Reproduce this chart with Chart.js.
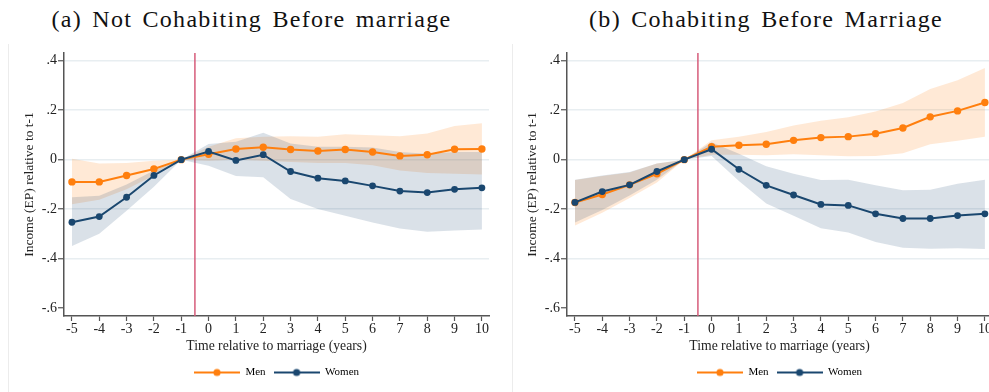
<!DOCTYPE html>
<html>
<head>
<meta charset="utf-8">
<script src="https://cdn.jsdelivr.net/npm/chart.js@4.4.1/dist/chart.umd.min.js"></script>
<style>
  html, body { margin: 0; padding: 0; background: #fff; overflow: hidden; }
  body { width: 989px; height: 392px; position: relative; }
  .panel { position: absolute; top: 0; }
  .frame { position: absolute; top: 44px; bottom: 0; width: 0; border-left: 1px solid #ececec; }
  .ttl { position: absolute; top: 7px; text-align: center; font-family: 'Liberation Serif', serif;
         font-size: 24px; line-height: 24px; letter-spacing: 1.3px; word-spacing: 3px; color: #111; white-space: nowrap; }
</style>
</head>
<body>
<div class="frame" style="left:8px"></div>
<div class="frame" style="left:512px"></div>
<div class="ttl" style="left:0;width:503px">(a) Not Cohabiting Before marriage</div>
<div class="ttl" style="left:512px;width:508px">(b) Cohabiting Before Marriage</div>
<canvas id="chartA" class="panel" style="left:0" width="500" height="392"></canvas>
<canvas id="chartB" class="panel" style="left:503px" width="500" height="392"></canvas>
<script>
// time relative to marriage (years)
const years = [-5, -4, -3, -2, -1, 0, 1, 2, 3, 4, 5, 6, 7, 8, 9, 10]
const marriageAt = -0.5

const yTicks = [-0.6, -0.4, -0.2, 0, 0.2, 0.4]
const yTickLabels = ['-.6', '-.4', '-.2', '0', '.2', '.4']

// (a) not cohabiting before marriage
const menA    = [-0.090, -0.090, -0.064, -0.038, 0, 0.022, 0.043, 0.050, 0.041, 0.035, 0.041, 0.031, 0.015, 0.020, 0.042, 0.043]
const menALo  = [-0.180, -0.162, -0.120, -0.064, 0, -0.005, 0.000, -0.005, -0.010, -0.014, -0.014, -0.023, -0.044, -0.054, -0.057, -0.060]
const menAHi  = [0.004, -0.016, -0.014, -0.005, 0, 0.052, 0.086, 0.093, 0.095, 0.093, 0.103, 0.099, 0.095, 0.106, 0.136, 0.147]
const womenA   = [-0.253, -0.230, -0.152, -0.064, 0, 0.033, -0.003, 0.020, -0.048, -0.075, -0.086, -0.106, -0.127, -0.133, -0.120, -0.114]
const womenALo = [-0.349, -0.300, -0.207, -0.110, 0, -0.025, -0.066, -0.071, -0.159, -0.200, -0.227, -0.254, -0.278, -0.291, -0.286, -0.282]
const womenAHi = [-0.152, -0.146, -0.100, -0.044, 0, 0.063, 0.072, 0.109, 0.065, 0.052, 0.052, 0.049, 0.031, 0.024, 0.031, 0.031]

// (b) cohabiting before marriage
const menB    = [-0.173, -0.141, -0.102, -0.057, 0, 0.052, 0.058, 0.062, 0.078, 0.089, 0.093, 0.105, 0.128, 0.173, 0.197, 0.231]
const menBLo  = [-0.266, -0.215, -0.155, -0.092, 0, 0.020, 0.020, 0.018, 0.022, 0.018, 0.014, 0.015, 0.026, 0.062, 0.076, 0.092]
const menBHi  = [-0.082, -0.066, -0.052, -0.016, 0, 0.078, 0.092, 0.112, 0.138, 0.157, 0.171, 0.195, 0.229, 0.285, 0.321, 0.370]
const womenB   = [-0.173, -0.129, -0.102, -0.048, 0, 0.042, -0.039, -0.104, -0.143, -0.181, -0.185, -0.219, -0.238, -0.238, -0.226, -0.219]
const womenBLo = [-0.254, -0.204, -0.145, -0.081, 0, 0.015, -0.086, -0.177, -0.227, -0.277, -0.295, -0.333, -0.356, -0.360, -0.358, -0.361]
const womenBHi = [-0.081, -0.064, -0.050, -0.016, 0, 0.070, 0.024, -0.027, -0.057, -0.082, -0.081, -0.104, -0.124, -0.122, -0.097, -0.081]

const menColor = 'rgb(255,127,14)'
const womenColor = 'rgb(26,71,111)'
const menBand = 'rgba(255,127,14,0.17)'
const womenBand = 'rgba(26,71,111,0.16)'
const axisColor = '#555'

Chart.defaults.font.family = "'Liberation Serif', serif"
Chart.defaults.color = '#222'

function pts(vals) {
    return years.map((x, i) => ({x: x, y: vals[i]}))
}

function legendIcon(color) {
    const c = document.createElement('canvas')
    c.width = 46
    c.height = 10
    const g = c.getContext('2d')
    g.strokeStyle = color
    g.lineWidth = 2
    g.beginPath()
    g.moveTo(0, 5)
    g.lineTo(46, 5)
    g.stroke()
    g.fillStyle = color
    g.beginPath()
    g.arc(23, 5, 3.6, 0, Math.PI * 2)
    g.fill()
    return c
}

// red vertical line at the marriage date
const marriageLine = {
    id: 'marriageLine',
    beforeDatasetsDraw(chart) {
        const {ctx, chartArea, scales} = chart
        const px = scales.x.getPixelForValue(marriageAt)
        ctx.save()
        ctx.strokeStyle = 'rgb(214,92,122)'
        ctx.lineWidth = 1.5
        ctx.beginPath()
        ctx.moveTo(px, chartArea.top)
        ctx.lineTo(px, chartArea.bottom)
        ctx.stroke()
        ctx.restore()
    }
}

function makePanel(id, men, menLo, menHi, women, womenLo, womenHi) {
    const hidden = {borderWidth: 0, pointRadius: 0, fill: false}
    return new Chart(document.getElementById(id), {
        type: 'line',
        data: {
            datasets: [
                {...hidden, data: pts(menLo), order: 5},
                {data: pts(menHi), borderWidth: 0, pointRadius: 0, fill: 0, backgroundColor: menBand, order: 4},
                {...hidden, data: pts(womenLo), order: 3},
                {data: pts(womenHi), borderWidth: 0, pointRadius: 0, fill: 2, backgroundColor: womenBand, order: 2},
                {label: 'Men', data: pts(men), borderColor: menColor, backgroundColor: menColor,
                 borderWidth: 2, pointRadius: 3.7, pointBorderWidth: 0, order: 1},
                {label: 'Women', data: pts(women), borderColor: womenColor, backgroundColor: womenColor,
                 borderWidth: 2, pointRadius: 3.4, pointBorderWidth: 0, order: 0}
            ]
        },
        options: {
            responsive: false,
            animation: false,
            layout: {padding: {top: 53, left: 21, right: 11, bottom: 4}},
            plugins: {
                tooltip: {enabled: false},
                legend: {
                    position: 'bottom',
                    fullSize: false,
                    labels: {
                        usePointStyle: true,
                        pointStyleWidth: 46,
                        boxHeight: 11,
                        padding: 8,
                        font: {size: 11},
                        generateLabels: () => [
                            {text: 'Men', pointStyle: legendIcon(menColor), fillStyle: menColor, strokeStyle: menColor, lineWidth: 0, datasetIndex: 4},
                            {text: 'Women', pointStyle: legendIcon(womenColor), fillStyle: womenColor, strokeStyle: womenColor, lineWidth: 0, datasetIndex: 5}
                        ]
                    }
                }
            },
            scales: {
                x: {
                    type: 'linear',
                    min: -5.29,
                    max: 10.26,
                    afterBuildTicks: (axis) => { axis.ticks = years.map(v => ({value: v})) },
                    afterFit: (axis) => { axis.height = 43 },
                    ticks: {padding: 0, font: {size: 14}, callback: (v) => String(v), maxRotation: 0, autoSkip: false},
                    grid: {drawOnChartArea: false, tickLength: 5, tickColor: axisColor, tickWidth: 1.2},
                    border: {display: true, color: axisColor, width: 1.5},
                    title: {display: true, text: 'Time relative to marriage (years)', font: {size: 13.7}, padding: {top: 0, bottom: 4}}
                },
                y: {
                    min: -0.632,
                    max: 0.431,
                    afterBuildTicks: (axis) => { axis.ticks = yTicks.map(v => ({value: v})) },
                    afterFit: (axis) => { axis.width = 43 },
                    ticks: {padding: 1, font: {size: 14}, callback: (v) => yTickLabels[yTicks.indexOf(v)]},
                    grid: {
                        color: (c) => c.tick && c.tick.value === -0.6 ? 'rgba(0,0,0,0)' : '#e8eef1',
                        lineWidth: 1.5,
                        tickLength: 6,
                        tickColor: axisColor,
                        tickWidth: 1.2
                    },
                    border: {display: true, color: axisColor, width: 1.5},
                    title: {display: true, text: 'Income (EP) relative to t-1', font: {size: 13.5}, padding: {top: 0, bottom: 0}}
                }
            }
        },
        plugins: [marriageLine]
    })
}

makePanel('chartA', menA, menALo, menAHi, womenA, womenALo, womenAHi)
makePanel('chartB', menB, menBLo, menBHi, womenB, womenBLo, womenBHi)
</script>
</body>
</html>
